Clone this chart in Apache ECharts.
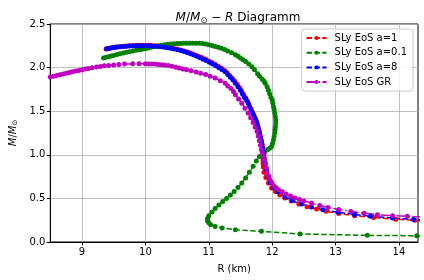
<!DOCTYPE html>
<html>
<head>
<meta charset="utf-8">
<script src="https://cdn.jsdelivr.net/npm/echarts@6/dist/echarts.min.js"></script>
<style>html,body{margin:0;padding:0;background:#fff}#c{width:424px;height:280px}</style>
</head>
<body>
<div id="c"></div>
<script>
const seriesNames = ['SLy EoS a=1', 'SLy EoS a=0.1', 'SLy EoS a=8', 'SLy EoS GR'];
const xTicks = [9, 10, 11, 12, 13, 14];
const yTicks = [0.0, 0.5, 1.0, 1.5, 2.0, 2.5];

// [R (km), M/Msun]
const slyA1 = [[9.38,2.212],[9.42,2.22],[9.46,2.226],[9.5,2.231],[9.55,2.236],[9.6,2.24],[9.65,2.244],[9.7,2.247],[9.75,2.25],[9.8,2.252],[9.85,2.254],[9.9,2.255],[9.95,2.256],[10.0,2.256],[10.05,2.255],[10.1,2.253],[10.15,2.25],[10.2,2.247],[10.25,2.243],[10.3,2.238],[10.35,2.233],[10.4,2.227],[10.45,2.22],[10.5,2.212],[10.55,2.203],[10.6,2.193],[10.65,2.182],[10.7,2.17],[10.75,2.157],[10.8,2.143],[10.85,2.128],[10.9,2.112],[10.95,2.095],[11.0,2.077],[11.05,2.058],[11.1,2.038],[11.15,2.016],[11.2,1.993],[11.25,1.968],[11.29,1.94],[11.33,1.91],[11.37,1.878],[11.41,1.843],[11.45,1.805],[11.49,1.765],[11.52,1.73],[11.55,1.69],[11.58,1.655],[11.61,1.615],[11.635,1.575],[11.66,1.535],[11.685,1.495],[11.71,1.455],[11.73,1.42],[11.75,1.385],[11.77,1.34],[11.785,1.3],[11.8,1.26],[11.81,1.22],[11.82,1.18],[11.83,1.14],[11.84,1.1],[11.845,1.06],[11.85,1.02],[11.85,0.98],[11.855,0.94],[11.855,0.9],[11.86,0.86],[11.87,0.8],[11.9,0.74],[11.94,0.677],[11.99,0.62],[12.05,0.58],[12.12,0.54],[12.2,0.505],[12.3,0.47],[12.42,0.435],[12.55,0.405],[12.7,0.378],[12.85,0.352],[13.05,0.327],[13.3,0.302],[13.6,0.28],[13.95,0.262],[14.25,0.248],[14.5,0.238]];
const slyA01 = [[9.34,2.11],[9.38,2.118],[9.42,2.125],[9.46,2.133],[9.5,2.14],[9.55,2.15],[9.6,2.16],[9.65,2.168],[9.7,2.175],[9.75,2.183],[9.8,2.19],[9.85,2.198],[9.9,2.205],[9.95,2.211],[10.0,2.217],[10.05,2.226],[10.1,2.235],[10.15,2.243],[10.2,2.25],[10.25,2.257],[10.3,2.263],[10.35,2.267],[10.4,2.27],[10.45,2.273],[10.5,2.275],[10.55,2.277],[10.6,2.278],[10.65,2.279],[10.7,2.28],[10.75,2.28],[10.8,2.28],[10.85,2.278],[10.9,2.275],[10.95,2.27],[11.0,2.262],[11.05,2.253],[11.1,2.243],[11.15,2.233],[11.2,2.222],[11.25,2.207],[11.3,2.19],[11.36,2.17],[11.42,2.148],[11.46,2.13],[11.5,2.11],[11.54,2.09],[11.58,2.07],[11.63,2.04],[11.68,2.01],[11.72,1.975],[11.77,1.93],[11.8,1.9],[11.84,1.87],[11.87,1.845],[11.89,1.82],[11.92,1.78],[11.94,1.74],[11.96,1.7],[11.98,1.66],[12.0,1.63],[12.01,1.594],[12.02,1.555],[12.03,1.52],[12.04,1.48],[12.05,1.44],[12.055,1.4],[12.055,1.36],[12.05,1.32],[12.045,1.285],[12.04,1.25],[12.03,1.21],[12.02,1.17],[12.005,1.13],[11.99,1.096],[11.96,1.075],[11.93,1.06],[11.89,1.04],[11.86,1.02],[11.8,0.98],[11.75,0.93],[11.7,0.87],[11.64,0.8],[11.58,0.735],[11.52,0.677],[11.46,0.625],[11.4,0.58],[11.34,0.54],[11.28,0.5],[11.22,0.465],[11.16,0.425],[11.1,0.385],[11.05,0.345],[11.0,0.3],[10.98,0.27],[10.98,0.245],[11.0,0.22],[11.03,0.198],[11.1,0.178],[11.21,0.16],[11.42,0.141],[11.83,0.122],[12.44,0.092],[13.5,0.076],[14.28,0.072],[14.5,0.071]];
const slyA8 = [[9.39,2.217],[9.43,2.222],[9.47,2.228],[9.51,2.232],[9.55,2.236],[9.6,2.24],[9.65,2.243],[9.7,2.246],[9.75,2.248],[9.8,2.25],[9.85,2.251],[9.9,2.252],[9.95,2.252],[10.0,2.252],[10.05,2.251],[10.1,2.249],[10.15,2.246],[10.2,2.242],[10.25,2.238],[10.3,2.233],[10.35,2.227],[10.4,2.221],[10.45,2.213],[10.51,2.205],[10.56,2.195],[10.61,2.184],[10.66,2.172],[10.71,2.159],[10.76,2.145],[10.81,2.13],[10.86,2.114],[10.91,2.097],[10.96,2.08],[11.01,2.061],[11.06,2.042],[11.11,2.021],[11.16,1.999],[11.21,1.976],[11.26,1.952],[11.3,1.92],[11.34,1.89],[11.38,1.857],[11.42,1.82],[11.46,1.78],[11.5,1.74],[11.53,1.7],[11.56,1.66],[11.59,1.63],[11.62,1.594],[11.645,1.55],[11.67,1.51],[11.695,1.47],[11.72,1.43],[11.74,1.4],[11.76,1.365],[11.775,1.32],[11.79,1.28],[11.8,1.24],[11.815,1.2],[11.83,1.16],[11.84,1.12],[11.85,1.08],[11.86,1.04],[11.87,1.0],[11.875,0.96],[11.88,0.93],[11.89,0.9],[11.91,0.83],[11.94,0.75],[11.97,0.68],[12.02,0.625],[12.09,0.575],[12.2,0.52],[12.32,0.475],[12.46,0.435],[12.62,0.4],[12.8,0.37],[13.04,0.34],[13.3,0.315],[13.55,0.296],[13.9,0.275],[14.23,0.258],[14.5,0.25]];
const slyGR = [[8.4,1.87],[8.45,1.882],[8.5,1.893],[8.55,1.902],[8.6,1.91],[8.65,1.918],[8.7,1.927],[8.75,1.935],[8.8,1.943],[8.85,1.952],[8.9,1.96],[8.95,1.968],[9.0,1.976],[9.05,1.983],[9.1,1.99],[9.16,1.998],[9.23,2.007],[9.29,2.013],[9.35,2.02],[9.42,2.025],[9.5,2.03],[9.58,2.035],[9.67,2.04],[9.8,2.043],[9.9,2.043],[10.0,2.043],[10.05,2.042],[10.1,2.041],[10.15,2.04],[10.2,2.036],[10.25,2.033],[10.3,2.03],[10.36,2.023],[10.42,2.015],[10.48,2.005],[10.53,1.995],[10.59,1.985],[10.65,1.975],[10.72,1.963],[10.8,1.95],[10.87,1.935],[10.95,1.92],[11.02,1.9],[11.1,1.88],[11.18,1.85],[11.26,1.82],[11.3,1.79],[11.35,1.76],[11.39,1.725],[11.42,1.69],[11.47,1.64],[11.52,1.59],[11.57,1.535],[11.62,1.48],[11.66,1.425],[11.7,1.37],[11.73,1.32],[11.76,1.268],[11.78,1.215],[11.8,1.16],[11.815,1.11],[11.83,1.058],[11.845,1.02],[11.86,0.98],[11.875,0.945],[11.89,0.906],[11.905,0.855],[11.92,0.8],[11.94,0.76],[11.96,0.72],[11.99,0.685],[12.02,0.65],[12.06,0.625],[12.1,0.6],[12.16,0.575],[12.22,0.55],[12.29,0.527],[12.36,0.505],[12.43,0.487],[12.5,0.47],[12.62,0.447],[12.75,0.42],[12.88,0.397],[13.05,0.373],[13.24,0.351],[13.45,0.33],[13.66,0.313],[13.9,0.302],[14.13,0.294],[14.5,0.28]];

const dataSets = [slyA1, slyA01, slyA8, slyGR];
const colors = ['#ff0000', '#008000', '#0000ff', '#bf00bf'];
const dashes = [[5.5, 2.4], [5.5, 2.4], [5.5, 2.4], [9.6, 2.4, 1.5, 2.4]];

const FONT = 'DejaVu Sans';
const chart = echarts.init(document.getElementById('c'), null, {renderer: 'canvas'});
chart.setOption({
  animation: false,
  backgroundColor: '#fff',
  textStyle: {fontFamily: FONT},
  title: {
    text: '{i|M}{n|/}{i|M}{s|⊙}{n| − }{i|R}{n| Diagramm}',
    left: 233, top: 6, textAlign: 'center',
    textStyle: {
      fontWeight: 'normal',
      rich: {
        i: {fontFamily: FONT, fontStyle: 'italic', fontWeight: 'normal', fontSize: 12, color: '#000'},
        n: {fontFamily: FONT, fontWeight: 'normal', fontSize: 12, color: '#000'},
        s: {fontFamily: FONT, fontWeight: 'normal', fontSize: 8.5, color: '#000', padding: [5, 0, 0, 0]}
      }
    }
  },
  grid: {left: 48, right: 6, top: 24, bottom: 38, show: true, borderColor: '#000', borderWidth: 1, backgroundColor: 'transparent'},
  legend: {
    orient: 'vertical', right: 11, top: 29,
    padding: [3, 6, 3, 4],
    itemWidth: 20, itemHeight: 5, itemGap: 2.7,
    backgroundColor: 'rgba(255,255,255,0.8)',
    borderColor: '#cccccc', borderWidth: 1, borderRadius: 3,
    itemStyle: {borderWidth: 0},
    textStyle: {fontFamily: FONT, fontSize: 10, lineHeight: 12, color: '#000', padding: [0, 0, 0, 3]},
    data: seriesNames
  },
  xAxis: {
    type: 'value', min: 8.5, max: 14.3,
    name: 'R (km)', nameLocation: 'middle', nameGap: 22,
    nameTextStyle: {fontFamily: FONT, fontSize: 10, color: '#000'},
    axisLine: {show: true, lineStyle: {color: '#000', width: 1}},
    axisTick: {show: true, length: 3.5, lineStyle: {color: '#000'}, customValues: xTicks},
    axisLabel: {fontFamily: FONT, fontSize: 10, color: '#000', margin: 5, customValues: xTicks},
    splitLine: {show: true, lineStyle: {color: '#b0b0b0', width: 0.8}}
  },
  yAxis: {
    type: 'value', min: 0, max: 2.5, interval: 0.5,
    name: '{i|M}{n|/}{i|M}{s|⊙}', nameLocation: 'middle', nameGap: 30, nameRotate: 90,
    nameTextStyle: {
      rich: {
        i: {fontFamily: FONT, fontStyle: 'italic', fontSize: 10, color: '#000'},
        n: {fontFamily: FONT, fontSize: 10, color: '#000'},
        s: {fontFamily: FONT, fontSize: 7, color: '#000', padding: [4, 0, 0, 0]}
      }
    },
    axisLine: {show: true, lineStyle: {color: '#000', width: 1}},
    axisTick: {show: true, length: 3.5, lineStyle: {color: '#000'}},
    axisLabel: {fontFamily: FONT, fontSize: 10, color: '#000', margin: 5, formatter: v => v.toFixed(1)},
    splitLine: {show: true, lineStyle: {color: '#b0b0b0', width: 0.8}}
  },
  series: dataSets.map((d, i) => ({
    name: seriesNames[i],
    type: 'line',
    data: d,
    clip: true,
    symbol: 'circle',
    symbolSize: 5,
    showSymbol: true,
    itemStyle: {color: colors[i], borderWidth: 0},
    lineStyle: {color: colors[i], width: 1.5, type: dashes[i]},
    emphasis: {disabled: true}
  }))
});
</script>
</body>
</html>
